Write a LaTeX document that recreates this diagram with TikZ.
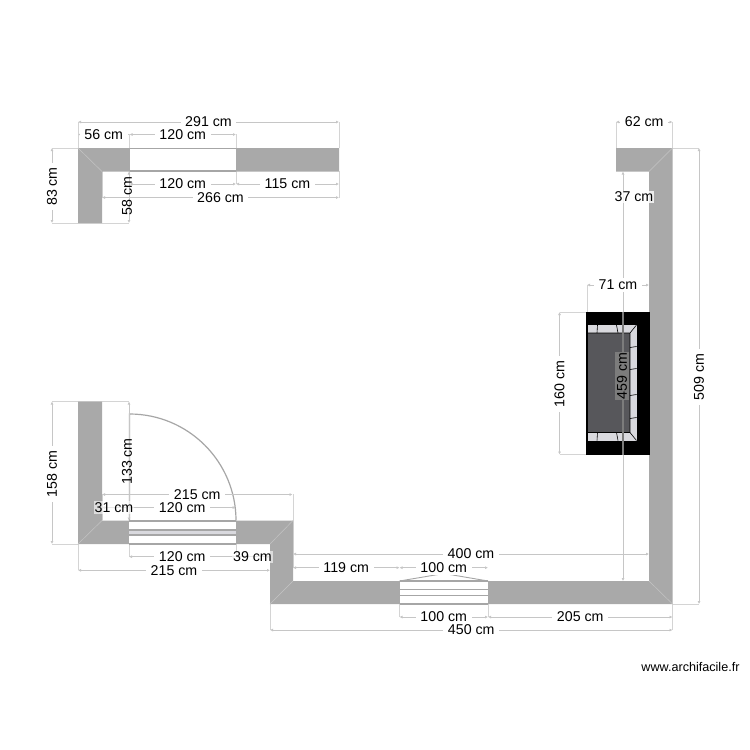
\documentclass[tikz,border=0pt]{standalone}
\usepackage{fontspec}
\setmainfont{Liberation Sans}
\usepackage{xcolor}
\usetikzlibrary{arrows.meta}
\definecolor{wall}{HTML}{A9A9A9}
\definecolor{seam}{HTML}{C4C4C4}
\definecolor{dimc}{HTML}{C6C6C6}
\definecolor{leaf}{HTML}{A6A6A6}
\definecolor{sofa}{HTML}{57575B}
\definecolor{cushion}{HTML}{D9D9DE}
\definecolor{tagc}{HTML}{7C7C7C}
\tikzset{
  wallfill/.style={fill=wall, draw=none},
  seamline/.style={draw=seam, line width=0.5pt},
  tread/.style={draw=leaf, line width=1.4pt},
  dimline/.style={draw=dimc, line width=1pt, {Latex[length=3pt,width=3pt]}-{Latex[length=3pt,width=3pt]}},
  extline/.style={draw=dimc!75, line width=0.8pt},
  dimlab/.style={fill=white, text=black, inner xsep=4.5pt, inner ysep=2pt, font=\fontsize{14.2}{14}\selectfont},
  softlab/.style={dimlab, fill opacity=0.6, text opacity=1, inner xsep=1pt, inner ysep=1pt},
  dimv/.style={dimlab, rotate=90, xshift=-1pt},
}
\begin{document}
\begin{tikzpicture}[x=1pt,y=-1pt]
  \useasboundingbox (0,0) rectangle (750,750);
  \fill[white] (0,0) rectangle (750,750);
  % extension lines
  \draw[extline] (78,122)--(78,148) (339,122)--(339,148) (129.5,134)--(129.5,148)
    (236,134)--(236,148) (129.5,171)--(129.5,184) (236,171)--(236,184) (339,171)--(339,198)
    (102,171)--(102,198) (52,148)--(78,148) (52,223)--(129,223);
  \draw[extline] (52,401.5)--(129,401.5) (52,544)--(78,544) (102,494)--(102,520) (293,494)--(293,520)
    (129,544)--(129,557) (236,544)--(236,557) (78,544)--(78,570) (270,544)--(270,570);
  \draw[extline] (293,520)--(293,568) (649,554)--(649,581) (270,604)--(270,630) (672.5,604)--(672.5,630)
    (399.5,604)--(399.5,617) (488,604)--(488,617) (672.5,604)--(699,604) (672.5,148)--(699,148)
    (616,122)--(616,148) (672.5,122)--(672.5,148) (587,285)--(587,312) (649,285)--(649,312)
    (559.5,312)--(586,312) (559.5,454.5)--(586,454.5);
  % walls
  \fill[wallfill] (78,148)--(339,148)--(339,171.5)--(102,171.5)--(102,223)--(78,223)--cycle;
  \fill[wallfill] (78,401.5)--(102,401.5)--(102,520.5)--(293,520.5)--(293,581)--(649,581)--(649,171.5)
    --(616,171.5)--(616,148)--(672.5,148)--(672.5,604)--(270,604)--(270,544)--(78,544)--cycle;
  \draw[seamline] (78,148)--(102,171.5) (78,544)--(102,520.5) (293,520.5)--(270,544)
    (270,604)--(293,581) (649,581)--(672.5,604) (672.5,148)--(649,171.5);
  % window, top wall
  \fill[white] (129.5,147.5) rectangle (236,171.8);
  \draw[tread] (129.5,148.5)--(236,148.5) (129.5,170.8)--(236,170.8);
  % door, lower left
  \fill[white] (129,520) rectangle (235.5,544.5);
  \fill[cushion] (129,530) rectangle (235.5,535);
  \draw[tread] (129,520.8)--(235.5,520.8) (129,529.8)--(235.5,529.8) (129,535)--(235.5,535) (129,544)--(235.5,544);
  % door, bottom wall
  \fill[white] (399.5,580.5) rectangle (488,604.5);
  \draw[tread] (399.5,581)--(488,581) (399.5,589.5)--(488,589.5) (399.5,595.5)--(488,595.5) (399.5,603.8)--(488,603.8);
  \draw[draw=leaf, line width=0.9pt] (399.5,581)--(444,573.5)--(488,581);
  % sofa
  \fill[black] (586,312) rectangle (650,454.5);
  \fill[cushion] (587.5,325) rectangle (636.5,440.5);
  \fill[sofa] (587.5,333) rectangle (630,432.5);
  \draw[black, line width=0.6pt] (630,333)--(636.5,325) (630,432.5)--(636.5,440.5) (630,333)--(630,432.5)
    (587.5,333)--(630,333) (587.5,432.5)--(630,432.5);
  \foreach \px/\qx in {597.5/597,616.5/618}{
    \draw[black, line width=0.6pt] (\px,325)--(\qx,333);
    \draw[black, line width=0.6pt] (\px,432.5)--(\qx,440.5);
  }
  \foreach \py in {347,369,395,418}
    \draw[black, line width=0.6pt] (630,\py+0.5)--(636.5,\py-0.5);
  % long dimension across the sofa
  \draw[dimline] (623,171.5) -- (623,581);
  \draw[draw=tagc, line width=1.2pt] (623,312) -- (623,454.5);
  % door leaf
  \draw[draw=leaf, line width=1.2pt] (236,520.5) arc[start angle=0, end angle=-90, radius=106.5] -- (129.5,520.5);
  % horizontal dimensions
  \foreach \xa/\xb/\yy/\txt in {
    78/339/122/291, 78/129.5/134.5/56, 129.5/236/134.5/120, 129.5/236/184/120, 236/339/184/115,
    102/339/197.5/266, 102/292.5/494.5/215, 129/235.5/507.5/120, 129/235.5/556.7/120,
    78/270/570.3/215, 293/649/554/400, 293/399.5/567.7/119, 399.5/488/567.7/100,
    399.5/488/617/100, 488/672.5/617/205, 270/672.5/630/450, 616/672.5/122/62, 587/649/285/71}
    \draw[dimline] (\xa,\yy) -- node[dimlab] (h\xa-\yy) {\txt\ cm} (\xb,\yy);
  % vertical dimensions
  \foreach \xx/\ya/\yb/\txt in {
    52/148/223/83, 52/401.5/544/158, 699/148/604/509, 559.5/312/454.5/160}
    \draw[dimline] (\xx,\ya) -- node[dimv] (v\xx-\ya) {\txt\ cm} (\xx,\yb);
  \draw[dimline] (129,171.5) -- (129,223);
  \node[dimlab, rotate=90, fill=none, inner sep=0pt] (lab58) at (127,196) {58 cm};
  \draw[dimline] (129,401.5) -- (129,520.5);
  \node[dimlab, rotate=90, fill=none, inner sep=0pt] (lab133) at (127,461.5) {133 cm};
  \draw[dimline] (102,507.5) -- (129,507.5);
  \node[softlab] (lab31) at (114,507.5) {31 cm};
  \draw[dimline] (235.5,556.7) -- (270,556.7);
  \node[softlab] (lab39) at (252.5,556.7) {39 cm};
  \node[softlab, fill opacity=0.8] (lab37) at (634,197) {37 cm};
  \node[dimlab, rotate=90, fill=tagc, inner xsep=1pt, inner ysep=2pt] (lab459) at (622,376) {459 cm};
  \node[text=black, font=\fontsize{12.6}{12}\selectfont, anchor=east] (credit) at (743,667) {www.archifacile.fr};
\end{tikzpicture}
\end{document}
